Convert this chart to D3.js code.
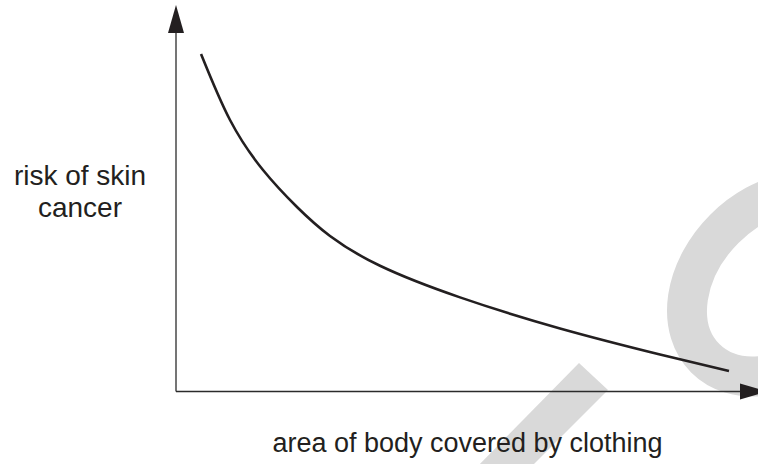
<!DOCTYPE html>
<html>
<head>
<meta charset="utf-8">
<script src="https://cdn.jsdelivr.net/npm/d3@7"></script>
<style>
  html, body { margin: 0; padding: 0; background: #fff; }
  svg { display: block; }
  text { font-family: "Liberation Sans", Arial, Helvetica, sans-serif; fill: #231f20; }
</style>
</head>
<body>
<svg width="758" height="464"></svg>
<script>
// curve values (relative units, 0-100 on both axes)
const clothing = [4.36, 9.41, 15.16, 21.08, 26.83, 35.54, 49.48, 66.9, 84.32, 96.34];
const risk     = [87.31, 70.21, 57.25, 47.67, 40.16, 32.44, 24.25, 16.22, 9.48, 5.16];

const xLabel = "area of body covered by clothing";
const yLabel = ["risk of skin", "cancer"];

const svg = d3.select("svg");

let x = d3.scaleLinear().domain([0, 100]).range([176, 750]);
let y = d3.scaleLinear().domain([0, 100]).range([391, 5]);

// grey watermark behind everything
svg.append("path")
  .attr("d", "M579,363 L608,390 L528,470 L474,470 Z")
  .attr("fill", "#d9d9d9");
svg.append("ellipse")
  .attr("cx", 0).attr("cy", 0).attr("rx", 105).attr("ry", 78)
  .attr("transform", "translate(779.5,284) rotate(-45)")
  .attr("fill", "none")
  .attr("stroke", "#d9d9d9")
  .attr("stroke-width", 40);

// axes
const axisColor = "#2b2b2b";
svg.append("line")
  .attr("x1", x(0)).attr("x2", x(0))
  .attr("y1", y(0) + 0.5).attr("y2", 30)
  .attr("stroke", axisColor).attr("stroke-width", 1.3);
svg.append("line")
  .attr("x1", x(0)).attr("x2", 745)
  .attr("y1", y(0) + 0.5).attr("y2", y(0) + 0.5)
  .attr("stroke", axisColor).attr("stroke-width", 1.3);

// arrow heads
svg.append("path")
  .attr("d", `M${x(0)},5 L${x(0) + 8},33 L${x(0) - 8},33 Z`)
  .attr("fill", "#231f20");
svg.append("path")
  .attr("d", `M768,${y(0) + 0.5} L740,${y(0) + 8.5} L740,${y(0) - 7.5} Z`)
  .attr("fill", "#231f20");

// the curve
let data = clothing.map((c, i) => ({ c: c, r: risk[i] }));
let line = d3.line()
  .x(d => x(d.c))
  .y(d => y(d.r))
  .curve(d3.curveNatural);

svg.append("path")
  .datum(data)
  .attr("d", line)
  .attr("fill", "none")
  .attr("stroke", "#231f20")
  .attr("stroke-width", 2.6);

// labels
svg.append("text")
  .attr("x", 467.5).attr("y", 452)
  .attr("text-anchor", "middle")
  .attr("font-size", 27)
  .text(xLabel);

svg.append("text")
  .attr("y", 185)
  .attr("text-anchor", "middle")
  .attr("font-size", 28)
  .selectAll("tspan")
  .data(yLabel)
  .join("tspan")
  .attr("x", 80)
  .attr("dy", (d, i) => i === 0 ? 0 : 32)
  .text(d => d);
</script>
</body>
</html>
